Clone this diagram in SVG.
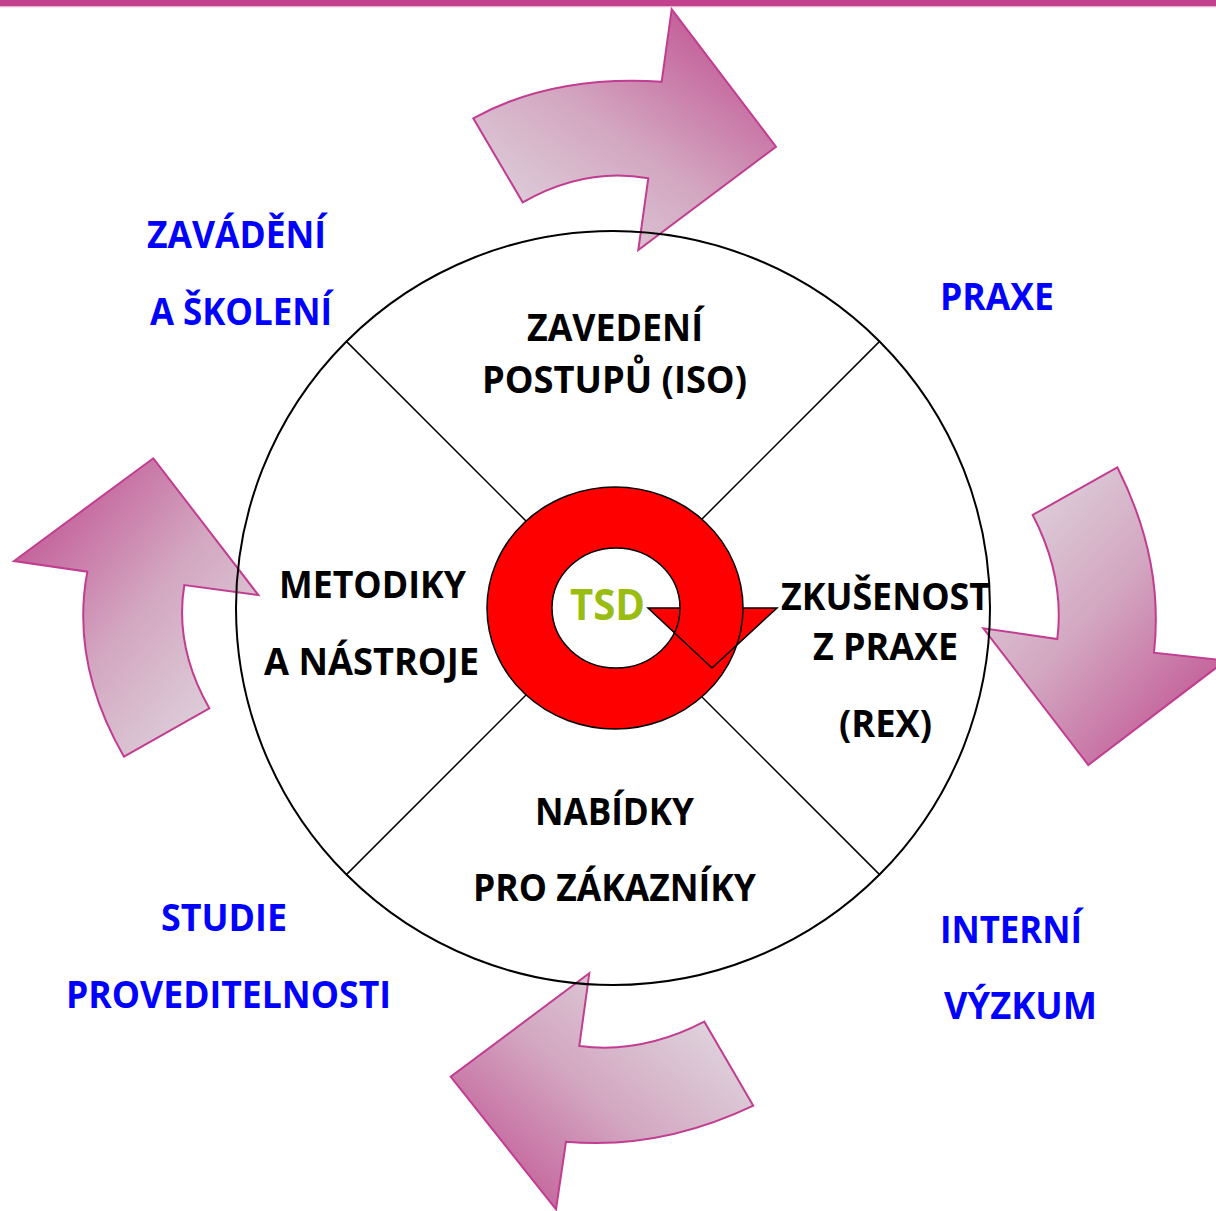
<svg xmlns="http://www.w3.org/2000/svg" xmlns:xlink="http://www.w3.org/1999/xlink" width="1216" height="1211" viewBox="0 0 1216 1211">
<style>
.arrow{stroke:#c23d92;stroke-width:2;stroke-linejoin:miter}
.lbl{font-family:"Open Sans",Lato,"Liberation Sans",sans-serif;font-weight:700;font-size:38px;text-anchor:middle}
.blue{fill:#0000ff}
.black{fill:#000}
.div{stroke:#000;stroke-width:1.5;fill:none}
</style>
<defs>
<linearGradient id="gBase"><stop offset="0" stop-color="#e0d9e0"/><stop offset="0.5" stop-color="#d3a7c1"/><stop offset="1" stop-color="#c15593"/></linearGradient>
<linearGradient id="gTop" href="#gBase" xlink:href="#gBase" x1="0.1" y1="1" x2="0.9" y2="0.1"/>
<linearGradient id="gRight" href="#gBase" xlink:href="#gBase" x1="0.1" y1="0" x2="0.9" y2="0.9"/>
<linearGradient id="gBottom" href="#gBase" xlink:href="#gBase" x1="0.95" y1="0.2" x2="0.1" y2="0.95"/>
<linearGradient id="gLeft" href="#gBase" xlink:href="#gBase" x1="0.9" y1="0.95" x2="0.1" y2="0.1"/>
</defs>
<rect x="0" y="0" width="1216" height="6" fill="#c3408d"/>
<rect x="0" y="6" width="1216" height="1.3" fill="#e8b4d2"/>

<g id="arrow-top"><path class="arrow" fill="url(#gTop)" d="M473.3,118.3 Q552.5,74.6 661.7,81.7 L671.7,9.3 L776,146.7 L638.3,250 L648.3,178.3 Q585.5,166.7 522.7,202.3 Z"/></g>
<g id="arrow-right"><path class="arrow" fill="url(#gRight)" d="M1117.3,467.3 Q1164.3,560 1154,652.7 L1225.7,660.5 L1088.3,765 L983.3,628.3 L1057.3,639 Q1065,577 1032.7,515 Z"/></g>
<g id="arrow-bottom"><path class="arrow" fill="url(#gBottom)" d="M753.3,1105.7 Q659.7,1150.3 566,1141.7 L556,1209.3 L450.7,1076.7 L589.3,973.3 L579.3,1046 Q641.8,1054.2 704.3,1021.7 Z"/></g>
<g id="arrow-left"><path class="arrow" fill="url(#gLeft)" d="M124,756.7 Q70.3,663.8 87.3,571.7 L14,561 L153.3,458.3 L258.3,595 L184.3,585 Q174.2,646.7 209.3,708.3 Z"/></g>

<g id="connectors">
<circle cx="613" cy="608" r="377" fill="none" stroke="#000" stroke-width="2"/>
<line class="div" x1="346.4" y1="341.4" x2="613" y2="608"/>
<line class="div" x1="879.6" y1="341.4" x2="613" y2="608"/>
<line class="div" x1="346.4" y1="874.6" x2="613" y2="608"/>
<line class="div" x1="879.6" y1="874.6" x2="613" y2="608"/>
</g>

<g id="tsd-arrow">
<ellipse cx="615" cy="608" rx="128" ry="121" fill="#ff0000"/>
<ellipse cx="616" cy="608" rx="64" ry="60" fill="#fff"/>
<polygon points="648,608 712,668 777,608" fill="#ff0000"/>
<ellipse cx="615" cy="608" rx="128" ry="121" fill="none" stroke="#000" stroke-width="1.5"/>
<ellipse cx="616" cy="608" rx="64" ry="60" fill="none" stroke="#000" stroke-width="1.5"/>
<polyline points="680,608 648,608 712,668 777,608 743,608" fill="none" stroke="#000" stroke-width="1.5"/>
<text x="607.5" y="620" font-family="'Open Sans',Lato,'Liberation Sans',sans-serif" font-weight="700" font-size="43" fill="#9abd14" text-anchor="middle" textLength="75" lengthAdjust="spacingAndGlyphs">TSD</text>
</g>

<g id="node-zavadeni"><text class="lbl blue" x="236.5" y="248" textLength="179" lengthAdjust="spacingAndGlyphs">ZAVÁDĚNÍ</text><text class="lbl blue" x="241" y="325" textLength="182" lengthAdjust="spacingAndGlyphs">A ŠKOLENÍ</text></g>
<g id="node-praxe"><text class="lbl blue" x="997" y="310" textLength="114" lengthAdjust="spacingAndGlyphs">PRAXE</text></g>
<g id="node-interni"><text class="lbl blue" x="1011" y="943" textLength="142" lengthAdjust="spacingAndGlyphs">INTERNÍ</text><text class="lbl blue" x="1020.5" y="1019" textLength="153" lengthAdjust="spacingAndGlyphs">VÝZKUM</text></g>
<g id="node-studie"><text class="lbl blue" x="224" y="931" textLength="126" lengthAdjust="spacingAndGlyphs">STUDIE</text><text class="lbl blue" x="228.5" y="1008" textLength="325" lengthAdjust="spacingAndGlyphs">PROVEDITELNOSTI</text></g>

<g id="node-iso"><text class="lbl black" x="615" y="341" textLength="176" lengthAdjust="spacingAndGlyphs">ZAVEDENÍ</text><text class="lbl black" x="614.5" y="393" textLength="265" lengthAdjust="spacingAndGlyphs">POSTUPŮ (ISO)</text></g>
<g id="node-metodiky"><text class="lbl black" x="372.5" y="598" textLength="187" lengthAdjust="spacingAndGlyphs">METODIKY</text><text class="lbl black" x="371.5" y="675" textLength="215" lengthAdjust="spacingAndGlyphs">A NÁSTROJE</text></g>
<g id="node-rex"><text class="lbl black" x="885.5" y="610" textLength="209" lengthAdjust="spacingAndGlyphs">ZKUŠENOST</text><text class="lbl black" x="885.5" y="660" textLength="145" lengthAdjust="spacingAndGlyphs">Z PRAXE</text><text class="lbl black" x="885.5" y="737" textLength="93" lengthAdjust="spacingAndGlyphs">(REX)</text></g>
<g id="node-nabidky"><text class="lbl black" x="614.5" y="825" textLength="159" lengthAdjust="spacingAndGlyphs">NABÍDKY</text><text class="lbl black" x="614.5" y="901" textLength="283" lengthAdjust="spacingAndGlyphs">PRO ZÁKAZNÍKY</text></g>
</svg>
